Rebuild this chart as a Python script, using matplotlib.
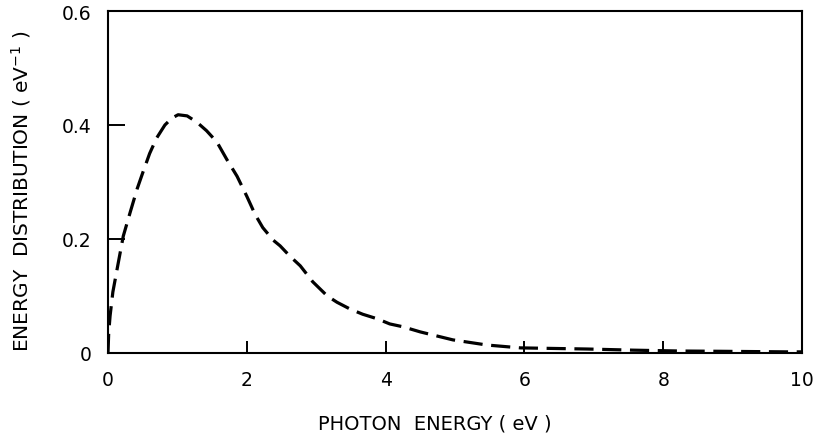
import matplotlib
matplotlib.use("Agg")
import matplotlib.pyplot as plt

photon_energy = [0.0, 0.01, 0.03, 0.07, 0.14, 0.22, 0.32, 0.42, 0.5, 0.6, 0.7, 0.82, 0.92, 1.01, 1.14,
                 1.28, 1.42, 1.57, 1.71, 1.86, 2.0, 2.12, 2.23, 2.38, 2.48, 2.62, 2.77, 2.95,
                 3.16, 3.30, 3.49, 3.67, 3.88, 4.06, 4.25, 4.50, 4.97, 5.46, 5.94, 6.41, 6.90,
                 7.56, 8.24, 8.82, 9.78, 10.0]
distribution = [0.0, 0.035, 0.065, 0.107, 0.153, 0.205, 0.247, 0.288, 0.316, 0.350, 0.377, 0.400,
                0.412, 0.418, 0.416, 0.405, 0.39, 0.37, 0.34, 0.31, 0.275, 0.243, 0.220, 0.198, 0.188,
                0.170, 0.153, 0.125, 0.100, 0.089, 0.077, 0.068, 0.060, 0.051, 0.046, 0.037,
                0.023, 0.014, 0.009, 0.008, 0.007, 0.005, 0.0035, 0.003, 0.002, 0.002]
x_ticks = [0, 2, 4, 6, 8, 10]
x_tick_labels = ["0", "2", "4", "6", "8", "10"]
y_ticks = [0, 0.2, 0.4, 0.6]
y_tick_labels = ["0", "0.2", "0.4", "0.6"]

fig = plt.figure(figsize=(8.15, 4.35), dpi=100)
ax = fig.add_axes([108/815, 1-354/435, (802-108)/815, (354-12)/435])

line, = ax.plot(photon_energy, distribution, color="black", lw=2.3)
line.set_dashes([6, 2.7])
line.set_dash_capstyle("butt")
line.set_dash_joinstyle("round")

ax.set_xlim(0, 10)
ax.set_ylim(0, 0.6)
ax.set_xticks(x_ticks)
ax.set_xticklabels(x_tick_labels)
ax.set_yticks(y_ticks)
ax.set_yticklabels(y_tick_labels)
ax.tick_params(direction="in", length=8.6, width=1.4, labelsize=13.5, pad=12)
ax.tick_params(axis="y", length=12.2)
for s in ax.spines.values():
    s.set_linewidth(1.5)

fig.text(434.5/815, 1-424/435, "PHOTON  ENERGY ( eV )", fontsize=14,
         ha="center", va="center")
fig.text(21/815, 1-191/435, "ENERGY  DISTRIBUTION ( eV$^{-1}$ )", fontsize=14.5,
         ha="center", va="center", rotation=90)

fig.savefig("out.png", dpi=100)
